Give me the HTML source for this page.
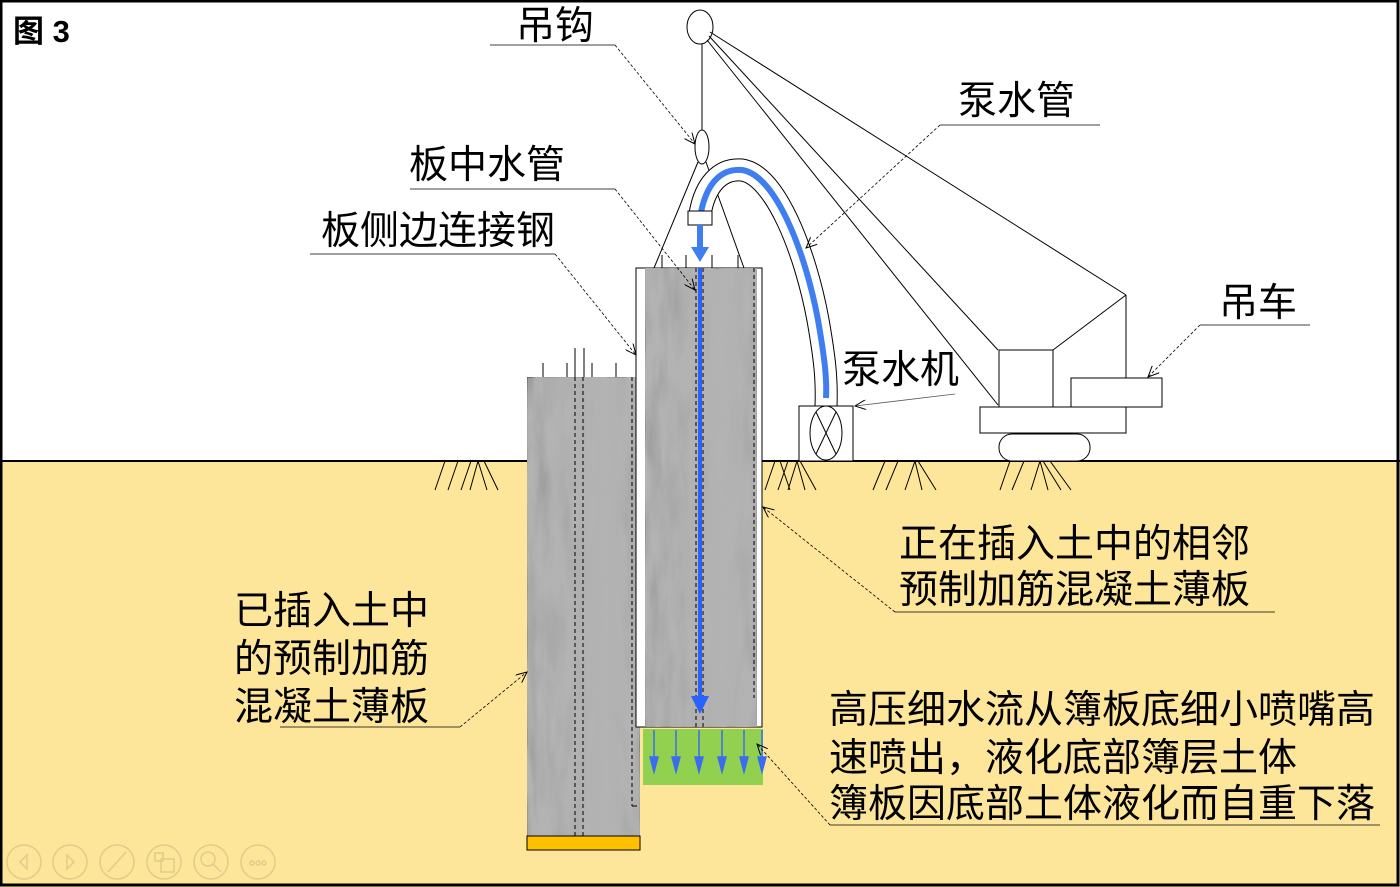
<!DOCTYPE html>
<html><head><meta charset="utf-8"><style>
html,body{margin:0;padding:0;background:#fff}
svg{display:block}
text{font-family:"Liberation Sans","Noto Sans CJK SC",sans-serif;fill:#000}
</style></head><body>
<svg width="1400" height="887" viewBox="0 0 1400 887" xmlns="http://www.w3.org/2000/svg">
<defs>
<filter id="tex" x="0" y="0" width="100%" height="100%">
<feTurbulence type="fractalNoise" baseFrequency="0.08 0.015" numOctaves="3" seed="4" result="n"/>
<feColorMatrix in="n" type="matrix" values="0 0 0 0 0.45  0 0 0 0 0.45  0 0 0 0 0.45  0.9 0.9 0.9 0 -0.6" result="a"/>
<feComposite in="a" in2="SourceGraphic" operator="in" result="b"/>
<feMerge><feMergeNode in="SourceGraphic"/><feMergeNode in="b"/></feMerge>
</filter>
<linearGradient id="g1" x1="0" x2="1"><stop offset="0" stop-color="#9a9a9a"/><stop offset="0.4" stop-color="#a8a8a8"/><stop offset="0.7" stop-color="#b4b4b4"/><stop offset="1" stop-color="#a0a0a0"/></linearGradient>
<marker id="ar" markerWidth="12" markerHeight="10" refX="11" refY="5" orient="auto" markerUnits="userSpaceOnUse"><path d="M0,0 L11,5 L0,10" fill="none" stroke="#000" stroke-width="1"/></marker>
</defs>
<rect x="0" y="0" width="1400" height="887" fill="#fff"/>
<rect x="0" y="461" width="1400" height="426" fill="#fde59a"/>
<line x1="0" y1="461" x2="1400" y2="461" stroke="#000" stroke-width="2"/>
<rect x="1" y="1" width="1397" height="884" fill="none" stroke="#000" stroke-width="3"/>
<text x="13" y="42" font-size="31" font-weight="bold">图 3</text>

<!-- ground hatches -->
<g stroke="#000" stroke-width="1" fill="none">
<path d="M445,461 L435,490 M458,461 L448,490 M471,461 L461,490 M478,461 L470,490 M478,461 L487,490 M484,461 L498,490"/>
<path d="M775,461 L765,490 M788,461 L778,490 M797,461 L788,490 M797,461 L805,490 M800,461 L816,490 M780,461 L790,490"/>
<path d="M885,461 L873,490 M898,461 L886,490 M915,461 L905,490 M915,461 L922,490 M918,461 L936,490"/>
<path d="M1010,461 L1000,490 M1024,461 L1012,490 M1040,461 L1031,490 M1040,461 L1048,490 M1043,461 L1061,490 M1050,461 L1071,490"/>
</g>

<!-- left panel -->
<g stroke="#000" stroke-width="1">
<line x1="543" y1="363" x2="543" y2="377"/><line x1="567" y1="363" x2="567" y2="377"/><line x1="575" y1="348" x2="575" y2="377"/><line x1="584" y1="348" x2="584" y2="377"/><line x1="592" y1="363" x2="592" y2="377"/><line x1="616" y1="363" x2="616" y2="377"/>
</g>
<rect x="527" y="377" width="113" height="459" fill="url(#g1)" filter="url(#tex)" stroke="#000"/>
<rect x="527" y="836" width="113" height="14" fill="#ffc000" stroke="#000"/>
<g stroke="#000" stroke-width="1" stroke-dasharray="4,3"><line x1="575" y1="377" x2="575" y2="836"/><line x1="583" y1="377" x2="583" y2="836"/><line x1="632" y1="377" x2="632" y2="806"/></g>
<line x1="632" y1="806" x2="637" y2="806" stroke="#000"/>

<!-- right panel -->
<rect x="636" y="268" width="126" height="459" fill="#fff" stroke="#000"/>
<rect x="645" y="268" width="112" height="459" fill="url(#g1)" filter="url(#tex)" stroke="#000"/>
<g stroke="#000" stroke-width="1" stroke-dasharray="4,3"><line x1="696" y1="268" x2="696" y2="727"/><line x1="703" y1="268" x2="703" y2="727"/><line x1="754" y1="268" x2="754" y2="698"/></g>
<g stroke="#000"><line x1="662" y1="255" x2="662" y2="268"/><line x1="686" y1="255" x2="686" y2="268"/><line x1="712" y1="255" x2="712" y2="268"/><line x1="738" y1="255" x2="738" y2="268"/></g>
<rect x="643" y="729" width="120" height="56" fill="#92d050"/>
<g stroke="#3b6cf0" stroke-width="1.5" fill="#3b6cf0">
<line x1="654" y1="730" x2="654" y2="760"/><path d="M650,757 L658,757 L654,772Z"/>
<line x1="676" y1="730" x2="676" y2="760"/><path d="M672,757 L680,757 L676,772Z"/>
<line x1="699" y1="730" x2="699" y2="760"/><path d="M695,757 L703,757 L699,772Z"/>
<line x1="722" y1="730" x2="722" y2="760"/><path d="M718,757 L726,757 L722,772Z"/>
<line x1="744" y1="730" x2="744" y2="760"/><path d="M740,757 L748,757 L744,772Z"/>
<line x1="762" y1="730" x2="762" y2="760"/><path d="M758,757 L766,757 L762,772Z"/>
</g>

<!-- hook & spreader -->
<ellipse cx="700" cy="27" rx="13" ry="17" fill="#fff" stroke="#000"/>
<line x1="702" y1="44" x2="702" y2="130" stroke="#000"/>
<ellipse cx="702" cy="147" rx="7" ry="17" fill="#fff" stroke="#000"/>
<line x1="698" y1="162" x2="654" y2="268" stroke="#000"/>
<line x1="706" y1="162" x2="744" y2="268" stroke="#000"/>

<!-- hose -->
<path id="hp" d="M700,214 C705,185 720,168 742,170 C775,175 805,250 818,320 C825,360 827,380 826,406" fill="none" stroke="#000" stroke-width="23"/>
<path d="M700,214 C705,185 720,168 742,170 C775,175 805,250 818,320 C825,360 827,380 826,406" fill="none" stroke="#fff" stroke-width="21"/>
<path d="M700,218 C705,185 720,168 742,170 C775,175 805,250 818,320 C825,360 827,380 826,398" fill="none" stroke="#3f7ef0" stroke-width="6"/>
<rect x="688" y="211" width="24" height="14" fill="#fff" stroke="#000"/>
<path d="M700,225 L700,250" stroke="#3f7ef0" stroke-width="6"/>
<path d="M691,247 L709,247 L700,262Z" fill="#3f7ef0"/>
<line x1="700" y1="268" x2="700" y2="700" stroke="#2a62ff" stroke-width="4"/>
<path d="M691,696 L709,696 L700,714Z" fill="#2a62ff"/>

<!-- pump -->
<rect x="799" y="406" width="54" height="55" fill="#fff" stroke="#000"/>
<ellipse cx="826" cy="433" rx="16" ry="27" fill="none" stroke="#000"/>
<line x1="816" y1="412" x2="836" y2="454" stroke="#000"/><line x1="836" y1="412" x2="816" y2="454" stroke="#000"/>

<!-- crane cables -->
<g stroke="#000" fill="none">
<line x1="710" y1="32" x2="1126" y2="295"/>
<line x1="709" y1="36" x2="998" y2="350"/>
<line x1="707" y1="40" x2="998" y2="405"/>
<line x1="1126" y1="295" x2="1053" y2="350"/>
<line x1="1126" y1="295" x2="1126" y2="378"/>
</g>
<rect x="999" y="350" width="54" height="57" fill="#fff" stroke="#000"/>
<rect x="1071" y="378" width="91" height="29" fill="#fff" stroke="#000"/>
<rect x="980" y="407" width="146" height="26" fill="#fff" stroke="#000"/>
<rect x="999" y="434" width="91" height="27" rx="13" fill="#fff" stroke="#000"/>

<!-- labels -->
<g font-size="39">
<text x="516" y="39">吊钩</text>
<text x="958" y="114">泵水管</text>
<text x="409" y="178">板中水管</text>
<text x="321" y="244">板侧边连接钢</text>
<text x="1219" y="316">吊车</text>
<text x="842" y="383">泵水机</text>
<text x="899" y="557">正在插入土中的相邻</text>
<text x="899" y="603">预制加筋混凝土薄板</text>
<text x="234" y="624">已插入土中</text>
<text x="234" y="672">的预制加筋</text>
<text x="234" y="720">混凝土薄板</text>
<text x="829" y="723">高压细水流从簿板底细小喷嘴高</text>
<text x="829" y="771">速喷出，液化底部簿层土体</text>
<text x="829" y="817">簿板因底部土体液化而自重下落</text>
</g>
<g stroke="#000" stroke-width="0.8" fill="none">
<line x1="490" y1="45" x2="615" y2="45"/>
<line x1="615" y1="45" x2="695" y2="144" stroke-dasharray="3,2" marker-end="url(#ar)"/>
<line x1="940" y1="125" x2="1100" y2="125"/>
<line x1="940" y1="125" x2="806" y2="248" stroke-dasharray="3,2" marker-end="url(#ar)"/>
<line x1="410" y1="189" x2="615" y2="189"/>
<line x1="615" y1="189" x2="695" y2="290" stroke-dasharray="3,2" marker-end="url(#ar)"/>
<line x1="310" y1="254" x2="555" y2="254"/>
<line x1="555" y1="254" x2="636" y2="355" stroke-dasharray="3,2" marker-end="url(#ar)"/>
<line x1="1200" y1="325" x2="1310" y2="325"/>
<line x1="1200" y1="325" x2="1148" y2="377" stroke-dasharray="3,2" marker-end="url(#ar)"/>
<line x1="955" y1="394" x2="855" y2="406" stroke="#555" marker-end="url(#ar)"/>
<line x1="895" y1="612" x2="1275" y2="612"/>
<line x1="895" y1="612" x2="763" y2="507" stroke-dasharray="3,2" marker-end="url(#ar)"/>
<line x1="280" y1="727" x2="460" y2="727"/>
<line x1="460" y1="727" x2="527" y2="672" stroke-dasharray="3,2" marker-end="url(#ar)"/>
<line x1="830" y1="825" x2="1380" y2="825"/>
<line x1="830" y1="825" x2="757" y2="744" stroke-dasharray="3,2" marker-end="url(#ar)"/>
</g>

<!-- nav icons -->
<g stroke="#e0cc8a" fill="none" stroke-width="1.5">
<circle cx="24" cy="862" r="17"/><path d="M27,855 L20,862 L27,869Z"/>
<circle cx="70" cy="862" r="17"/><path d="M67,855 L74,862 L67,869Z"/>
<circle cx="117" cy="862" r="17"/><path d="M108,872 L126,852"/>
<circle cx="164" cy="862" r="17"/><rect x="155" y="853" width="8" height="8"/><rect x="161" y="859" width="13" height="13"/>
<circle cx="211" cy="862" r="17"/><circle cx="208" cy="859" r="7"/><path d="M213,864 L221,872"/>
<circle cx="258" cy="862" r="17"/><circle cx="252" cy="863" r="2"/><circle cx="258" cy="863" r="2"/><circle cx="264" cy="863" r="2"/>
</g>
</svg>
</body></html>
